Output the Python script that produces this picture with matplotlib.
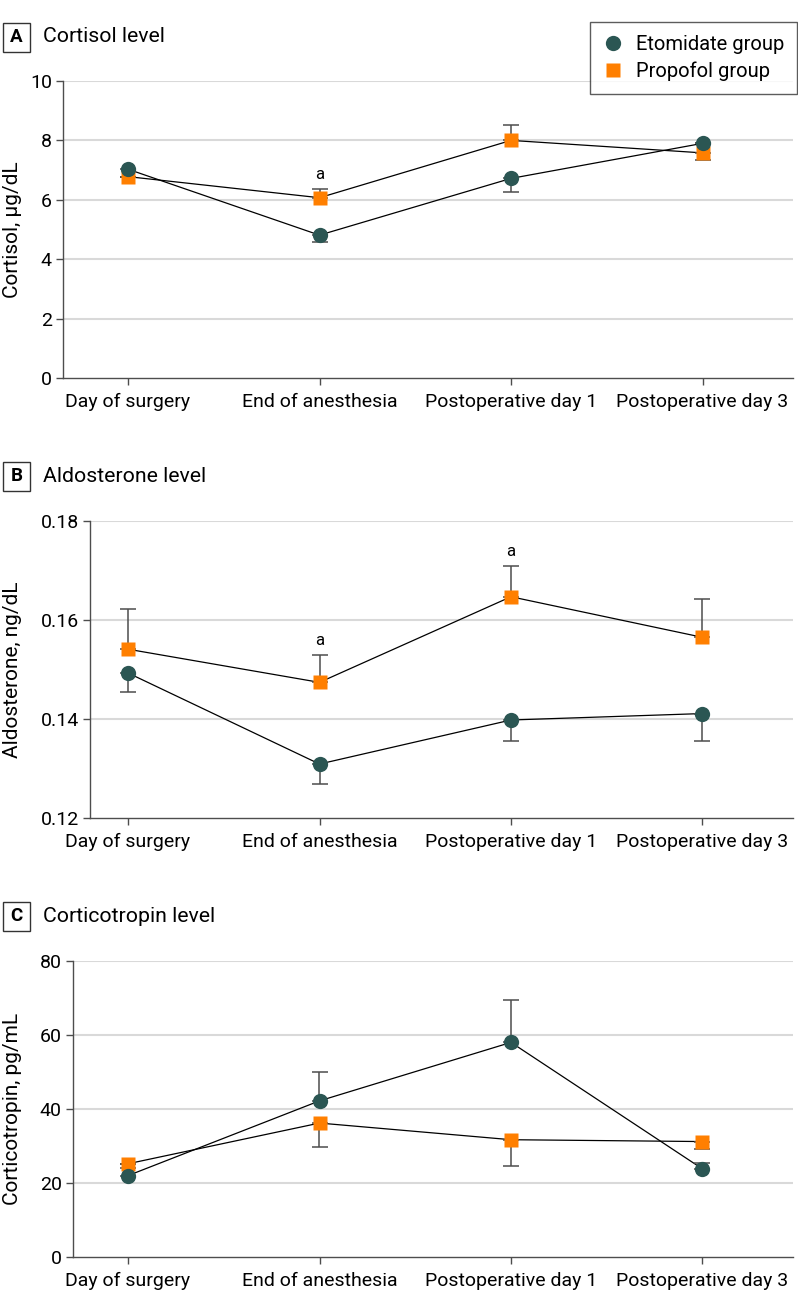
import matplotlib
matplotlib.use('Agg')
import matplotlib.pyplot as plt
from matplotlib.patches import Rectangle
from matplotlib.lines import Line2D

plt.rcParams['font.family'] = ['Roboto', 'DejaVu Sans']

# Podatki
kategorije = ['Day of surgery', 'End of anesthesia', 'Postoperative day 1', 'Postoperative day 3']

kortizol_eto = [7.03, 4.81, 6.72, 7.90]
kortizol_eto_spodaj = [0.25, 0.24, 0.45, 0.0]
kortizol_eto_zgoraj = [0.0, 0.0, 0.0, 0.0]
kortizol_pro = [6.78, 6.07, 8.00, 7.58]
kortizol_pro_spodaj = [0.0, 0.0, 0.0, 0.25]
kortizol_pro_zgoraj = [0.0, 0.30, 0.51, 0.0]

aldo_eto = [0.1493, 0.1309, 0.1398, 0.1411]
aldo_eto_spodaj = [0.0039, 0.0041, 0.0042, 0.0055]
aldo_eto_zgoraj = [0.0, 0.0, 0.0, 0.0]
aldo_pro = [0.1541, 0.1474, 0.1647, 0.1565]
aldo_pro_spodaj = [0.0, 0.0, 0.0, 0.0]
aldo_pro_zgoraj = [0.0081, 0.0055, 0.0063, 0.0077]

acth_eto = [22.0, 42.2, 58.0, 23.8]
acth_eto_spodaj = [0.0, 0.0, 0.0, 0.0]
acth_eto_zgoraj = [2.1, 7.7, 11.5, 1.6]
acth_pro = [25.2, 36.2, 31.7, 31.2]
acth_pro_spodaj = [0.0, 6.6, 7.1, 1.9]
acth_pro_zgoraj = [0.0, 0.0, 0.0, 0.0]

W, H = 798, 1308
ETO = '#2b5653'
PRO = '#ff7f00'
SIVA = '#4d4d4d'

fig = plt.figure(figsize=(W / 100, H / 100), dpi=100)


def okvir(l, t, r, b):
    return [l / W, 1 - b / H, (r - l) / W, (b - t) / H]


def panel(l, t, b, crka, naslov, naslov_y, eto, eto_sp, eto_zg, pro, pro_sp, pro_zg,
          yticks, ylabel, fmt, oznake):
    ax = fig.add_axes(okvir(l, t, 793, b))
    x = list(range(len(kategorije)))
    # x os: prva kategorija na 128 px, razmik 191.5 px
    ax.set_xlim((l - 128) / 191.5, (793 - 128) / 191.5)
    ax.set_ylim(yticks[0], yticks[-1])
    ax.set_yticks(yticks)
    ax.set_yticklabels([fmt.format(v) for v in yticks])
    ax.set_xticks(x)
    ax.set_xticklabels(kategorije)
    for v in yticks[1:]:
        ax.axhline(v, color='#d9d9d9', lw=1.5, zorder=0)
    for s in ['top', 'right']:
        ax.spines[s].set_visible(False)
    for s in ['left', 'bottom']:
        ax.spines[s].set_color(SIVA)
        ax.spines[s].set_linewidth(1.0)
    ax.tick_params(colors=SIVA, labelcolor='black', labelsize=14, length=5, width=1.0, pad=3)
    ax.tick_params(axis='x', pad=6)
    ax.set_ylabel(ylabel, fontsize=15)
    ax.yaxis.set_label_coords((22 - l) / (793 - l), 0.5)

    ax.plot(x, pro, color='black', lw=0.9, zorder=2)
    ax.plot(x, eto, color='black', lw=0.9, zorder=2)
    ax.errorbar(x, pro, yerr=[pro_sp, pro_zg], fmt='none', ecolor=SIVA, elinewidth=1.1,
                capsize=6, capthick=1.1, zorder=3)
    ax.errorbar(x, eto, yerr=[eto_sp, eto_zg], fmt='none', ecolor=SIVA, elinewidth=1.1,
                capsize=6, capthick=1.1, zorder=3)
    ax.plot(x, pro, 's', color=PRO, ms=10, mec='none', zorder=4)
    ax.plot(x, eto, 'o', color=ETO, ms=11, mec='none', zorder=5)

    for i in oznake:
        ax.annotate('a', (i, pro[i] + pro_zg[i]), xytext=(0, 5), textcoords='offset points',
                    ha='center', va='bottom', fontsize=12)

    # oznaka panela
    y0 = 1 - naslov_y / H
    fig.patches.append(Rectangle((3 / W, y0 - 14.5 / H), 27 / W, 29 / H, fill=False,
                                 edgecolor='#333333', lw=1.0, transform=fig.transFigure))
    fig.text(16.5 / W, y0, crka, ha='center', va='center', fontsize=13.5, fontweight='bold')
    fig.text(43 / W, y0, naslov, ha='left', va='center', fontsize=15.3)
    return ax


axA = panel(63, 81, 378, 'A', 'Cortisol level', 37,
            kortizol_eto, kortizol_eto_spodaj, kortizol_eto_zgoraj,
            kortizol_pro, kortizol_pro_spodaj, kortizol_pro_zgoraj,
            [0, 2, 4, 6, 8, 10], 'Cortisol, µg/dL', '{:.0f}', [1])
axB = panel(90, 521, 818, 'B', 'Aldosterone level', 476,
            aldo_eto, aldo_eto_spodaj, aldo_eto_zgoraj,
            aldo_pro, aldo_pro_spodaj, aldo_pro_zgoraj,
            [0.12, 0.14, 0.16, 0.18], 'Aldosterone, ng/dL', '{:.2f}', [1, 2])
axC = panel(73, 961, 1257, 'C', 'Corticotropin level', 916,
            acth_eto, acth_eto_spodaj, acth_eto_zgoraj,
            acth_pro, acth_pro_spodaj, acth_pro_zgoraj,
            [0, 20, 40, 60, 80], 'Corticotropin, pg/mL', '{:.0f}', [])

rocaji = [Line2D([], [], marker='o', ls='none', color=ETO, ms=11, mec='none'),
          Line2D([], [], marker='s', ls='none', color=PRO, ms=10, mec='none')]
leg = fig.legend(rocaji, ['Etomidate group', 'Propofol group'], loc='upper right',
                 bbox_to_anchor=(797 / W, 1 - 22 / H), fontsize=14.5, frameon=True,
                 fancybox=False, edgecolor='#333333', handletextpad=0.65,
                 borderpad=0.65, labelspacing=0.35, handlelength=0.95, borderaxespad=0)
leg.get_frame().set_linewidth(1.0)

fig.savefig('out.png', dpi=100)
